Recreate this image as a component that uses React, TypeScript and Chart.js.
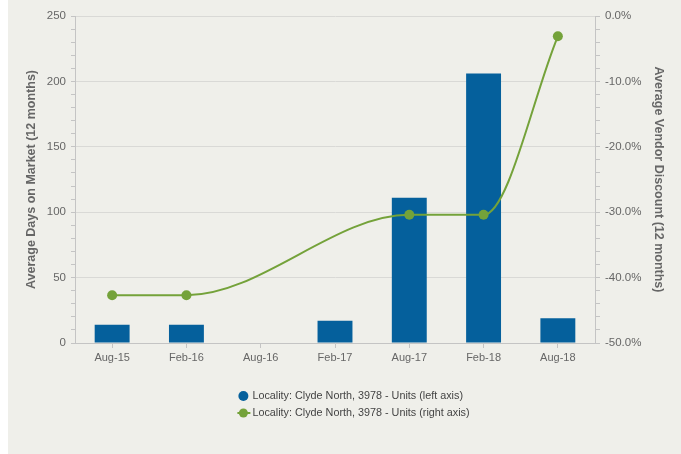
import { useEffect, useRef } from "react";
import { Chart, registerables } from "chart.js";

Chart.register(...registerables);

const categories = ["Aug-15", "Feb-16", "Aug-16", "Feb-17", "Aug-17", "Feb-18", "Aug-18"];
const daysOnMarket: (number | null)[] = [14, 14, null, 17, 111, 206, 19];
const vendorDiscount: (number | null)[] = [-42.7, -42.7, null, null, -30.4, -30.4, -3.1];

const leftAxisMin = 0;
const leftAxisMax = 250;
const leftMajorStep = 50;
const leftMinorStep = 10;
const rightAxisMin = -50;
const rightAxisMax = 0;
const rightMajorStep = 10;
const rightMinorStep = 2;

const leftAxisTitle = "Average Days on Market (12 months)";
const rightAxisTitle = "Average Vendor Discount (12 months)";
const barLabel = "Locality: Clyde North, 3978 - Units (left axis)";
const lineLabel = "Locality: Clyde North, 3978 - Units (right axis)";

const BAR_COLOR = "#05609c";
const LINE_COLOR = "#74a23a";
const FONT_FAMILY = "'Liberation Sans', Arial, Helvetica, sans-serif";
const AXIS_COLOR = "#c4c4c4";
const GRID_COLOR = "#d9d9d6";
const TEXT_COLOR = "#666666";

const legendPlugin = {
  id: "customLegend",
  afterDraw(chart: any) {
    const ctx = chart.ctx as CanvasRenderingContext2D;
    const datasets = chart.data.datasets;
    ctx.save();
    ctx.font = `10.8px ${FONT_FAMILY}`;
    const widths = datasets.map((d: any) => ctx.measureText(d.label).width);
    const maxW = Math.max(...widths) + 15;
    const x0 = chart.width / 2 - maxW / 2 + 9;
    let y = chart.chartArea.bottom + 53;
    datasets.forEach((d: any) => {
      const cx = x0 + 6;
      if (d.type === "line") {
        ctx.strokeStyle = d.borderColor;
        ctx.lineWidth = 2;
        ctx.beginPath();
        ctx.moveTo(x0, y);
        ctx.lineTo(x0 + 13, y);
        ctx.stroke();
        ctx.fillStyle = d.borderColor;
        ctx.beginPath();
        ctx.arc(cx, y, 4.5, 0, Math.PI * 2);
        ctx.fill();
      } else {
        ctx.fillStyle = d.backgroundColor;
        ctx.beginPath();
        ctx.arc(cx, y, 5, 0, Math.PI * 2);
        ctx.fill();
      }
      ctx.fillStyle = "#444444";
      ctx.textBaseline = "middle";
      ctx.textAlign = "left";
      ctx.fillText(d.label, x0 + 15, y);
      y += 17;
    });
    ctx.restore();
  },
};

export default function App() {
  const canvasRef = useRef<HTMLCanvasElement | null>(null);

  useEffect(() => {
    if (!canvasRef.current) return;
    const chart = new Chart(canvasRef.current, {
      type: "bar",
      data: {
        labels: categories,
        datasets: [
          {
            type: "bar",
            label: barLabel,
            data: daysOnMarket,
            backgroundColor: BAR_COLOR,
            borderWidth: 0,
            yAxisID: "y",
            order: 1,
            categoryPercentage: 1,
            barPercentage: 0.47,
          } as any,
          {
            type: "line",
            label: lineLabel,
            data: vendorDiscount,
            borderColor: LINE_COLOR,
            backgroundColor: LINE_COLOR,
            borderWidth: 2,
            pointRadius: 5,
            pointBackgroundColor: LINE_COLOR,
            pointBorderWidth: 0,
            spanGaps: true,
            cubicInterpolationMode: "monotone",
            yAxisID: "y1",
            order: 0,
          } as any,
        ],
      },
      options: {
        animation: false,
        responsive: true,
        maintainAspectRatio: false,
        layout: { padding: { top: 16, left: 0, right: 0, bottom: 0 } },
        plugins: {
          legend: { display: false },
          tooltip: { enabled: false },
        },
        scales: {
          x: {
            type: "category",
            offset: true,
            grid: {
              offset: false,
              drawOnChartArea: false,
              color: AXIS_COLOR,
              tickLength: 5,
            },
            border: { display: true, color: AXIS_COLOR },
            ticks: {
              color: TEXT_COLOR,
              font: { size: 11, family: FONT_FAMILY },
              padding: 3,
              maxRotation: 0,
              autoSkip: false,
            },
            afterFit: (scale: any) => {
              scale.height = 111;
            },
          },
          y: {
            type: "linear",
            position: "left",
            min: leftAxisMin,
            max: leftAxisMax,
            grid: {
              color: (c: any) =>
                c.tick && c.tick.value % leftMajorStep === 0 ? GRID_COLOR : "rgba(0,0,0,0)",
              tickColor: AXIS_COLOR,
              tickLength: 4,
            },
            border: { display: true, color: AXIS_COLOR },
            ticks: {
              stepSize: leftMinorStep,
              autoSkip: false,
              color: TEXT_COLOR,
              font: { size: 11.5, family: FONT_FAMILY },
              padding: 5,
              callback: (v: any) => (Number(v) % leftMajorStep === 0 ? String(v) : ""),
            },
            title: {
              display: true,
              text: leftAxisTitle,
              color: TEXT_COLOR,
              font: { size: 12.5, weight: "bold", family: FONT_FAMILY },
              padding: { top: 16, bottom: 0 },
            },
            afterFit: (scale: any) => {
              scale.width = 67;
            },
          },
          y1: {
            type: "linear",
            position: "right",
            min: rightAxisMin,
            max: rightAxisMax,
            grid: {
              drawOnChartArea: false,
              color: AXIS_COLOR,
              tickLength: 5,
            },
            border: { display: true, color: AXIS_COLOR },
            ticks: {
              stepSize: rightMinorStep,
              autoSkip: false,
              color: TEXT_COLOR,
              font: { size: 11.5, family: FONT_FAMILY },
              padding: 5,
              callback: (v: any) =>
                Math.round(Number(v)) % rightMajorStep === 0 ? Number(v).toFixed(1) + "%" : "",
            },
            title: {
              display: true,
              text: rightAxisTitle,
              color: TEXT_COLOR,
              font: { size: 12.5, weight: "bold", family: FONT_FAMILY },
              padding: { top: 15.5, bottom: 0 },
            },
            afterFit: (scale: any) => {
              scale.width = 86;
            },
          },
        },
      },
      plugins: [legendPlugin],
    });
    return () => chart.destroy();
  }, []);

  return (
    <div
      style={{
        position: "fixed",
        left: 8,
        top: 0,
        width: 673,
        height: 454,
        background: "#efefea",
      }}
    >
      <canvas ref={canvasRef} />
    </div>
  );
}
